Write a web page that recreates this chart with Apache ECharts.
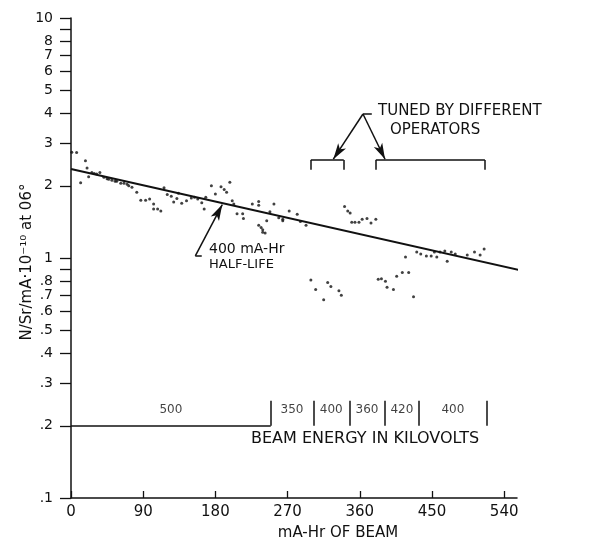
<!DOCTYPE html>
<html><head><meta charset="utf-8">
<script src="https://cdn.jsdelivr.net/npm/echarts@6/dist/echarts.min.js"></script>
<style>html,body{margin:0;padding:0;background:#fff}#c{width:591px;height:542px}</style>
</head><body><div id="c"></div>
<script>
// measured points: mA-Hr of beam vs N/Sr/mA·10^-10
const mAHr = [1,7,12,18,20,22,26,29,32,36,
 41,45,47,51,55,57,62,66,70,72,
 76,82,87,93,98,103,103,108,112,116,
 120,125,128,132,134,138,144,150,154,158,
 163,166,168,175,180,187,191,194,198,201,
 203,207,214,215,226,234,234,234,237,244,
 239,242,239,248,253,259,264,264,272,282,
 286,293,299,305,315,320,324,334,337,341,
 345,348,350,354,359,363,369,374,380,383,
 387,392,394,402,406,413,417,421,427,431,
 436,443,449,453,456,460,466,469,474,479,
 494,503,510,515];
const yieldVals = [2.76,2.75,2.06,2.54,2.37,2.18,2.27,2.25,2.24,2.27,
 2.17,2.14,2.13,2.11,2.09,2.09,2.05,2.05,2.03,2.00,
 1.97,1.88,1.74,1.74,1.76,1.68,1.60,1.60,1.57,1.96,
 1.84,1.81,1.71,1.77,1.86,1.69,1.73,1.78,1.79,1.76,
 1.70,1.60,1.79,2.00,1.85,1.98,1.93,1.88,2.07,1.73,
 1.68,1.53,1.53,1.46,1.68,1.72,1.66,1.37,1.34,1.43,
 1.31,1.27,1.28,1.56,1.68,1.47,1.45,1.43,1.57,1.52,
 1.42,1.37,0.81,0.74,0.67,0.79,0.76,0.73,0.70,1.64,
 1.57,1.54,1.41,1.41,1.41,1.45,1.46,1.40,1.45,0.815,
 0.82,0.80,0.755,0.74,0.84,0.87,1.01,0.87,0.69,1.06,
 1.04,1.02,1.02,1.06,1.01,1.06,1.07,0.97,1.06,1.04,
 1.03,1.06,1.03,1.09];
// 400 mA-Hr half-life fit line
const fitX = [0, 566];
const fitY = [2.35, 0.88];
// axis ticks / labels
const xTicks = [0, 90, 180, 270, 360, 450, 540];
const yTicks = [0.1,0.2,0.3,0.4,0.5,0.6,0.7,0.8,0.9,1,2,3,4,5,6,7,8,9,10];
const yLabelVals = [0.1,0.2,0.3,0.4,0.5,0.6,0.7,0.8,1,2,3,4,5,6,7,8,10];
const yLabelText = ['.1','.2','.3','.4','.5','.6','.7','.8','1','2','3','4','5','6','7','8','10'];
// beam energy segments (mA-Hr boundaries) and kV
const energyStart = [0, 249, 302, 347, 391, 434];
const energyEnd = [249, 302, 347, 391, 434, 518];
const energyKV = ['500','350','400','360','420','400'];
const energyLevel = 0.2;
// tuned-by-different-operators spans
const tunedSpans = [[299, 340], [380, 516]];

const chart = echarts.init(document.getElementById('c'), null, {renderer:'canvas'});
const FONT = 'DejaVu Sans';
const black = '#111';

const segs = [];
// energy baseline
segs.push([{coord:[energyStart[0], energyLevel]}, {coord:[energyEnd[0], energyLevel]}]);
energyEnd.forEach(x => segs.push([{coord:[x, energyLevel]}, {coord:[x, 0.254]}]));
// brackets
tunedSpans.forEach(s => {
  segs.push([{coord:[s[0], 2.33]}, {coord:[s[0], 2.56]}]);
  segs.push([{coord:[s[0], 2.56]}, {coord:[s[1], 2.56]}]);
  segs.push([{coord:[s[1], 2.56]}, {coord:[s[1], 2.33]}]);
});
// leader dashes
segs.push([{coord:[364, 3.98]}, {coord:[375, 3.98]}]);
segs.push([{coord:[155, 1.02]}, {coord:[163, 1.02]}]);

const arrows = [
  [{coord:[364, 3.98]}, {coord:[327, 2.58]}],
  [{coord:[364, 3.98]}, {coord:[391.5, 2.58]}],
  [{coord:[155, 1.02]}, {coord:[188.6, 1.67]}]
];

const labelMap = {};
yLabelVals.forEach((v,i)=>{ labelMap[v.toFixed(3)] = yLabelText[i]; });

const option = {
  animation: false,
  backgroundColor: '#fff',
  grid: {left: 71, right: 74, top: 18, bottom: 44},
  xAxis: {
    type: 'value', min: 0, max: 556,
    axisLine: {lineStyle: {color: black, width: 1.5}},
    axisTick: {inside: true, length: 7, customValues: xTicks, lineStyle: {color: black, width: 1.3}},
    axisLabel: {customValues: xTicks, color: black, fontSize: 15, fontFamily: FONT, margin: 7},
    splitLine: {show: false}
  },
  yAxis: {
    type: 'log', logBase: 10, min: 0.1, max: 10,
    axisLine: {lineStyle: {color: black, width: 1.5}},
    axisTick: {length: 11, customValues: yTicks, lineStyle: {color: black, width: 1.3}},
    axisLabel: {customValues: yLabelVals, color: black, fontSize: 14, fontFamily: FONT, margin: 18,
      formatter: v => labelMap[Number(v).toFixed(3)] || ''},
    splitLine: {show: false}, minorTick: {show: false}
  },
  series: [
    {
      type: 'scatter', silent: true,
      data: mAHr.map((x,i)=>[x, yieldVals[i]]),
      symbol: 'circle', symbolSize: 3,
      itemStyle: {color: black}
    },
    {
      type: 'line', silent: true, clip: false,
      data: fitX.map((x,i)=>[x, fitY[i]]),
      symbol: 'none',
      lineStyle: {color: black, width: 2},
      markLine: {
        silent: true, symbol: ['none','none'], animation: false,
        label: {show: false},
        lineStyle: {color: black, width: 1.5, type: 'solid'},
        emphasis: {disabled: true},
        data: segs
      }
    },
    {
      type: 'line', silent: true, clip: false, data: [],
      markLine: {
        silent: true, symbol: ['none','arrow'], symbolSize: [7, 16], animation: false,
        label: {show: false},
        lineStyle: {color: black, width: 1.5, type: 'solid'},
        emphasis: {disabled: true},
        data: arrows
      }
    },
    {
      type: 'scatter', silent: true, symbolSize: 0,
      data: energyKV.map((k,i)=>({value:[(energyStart[i]+energyEnd[i])/2, 0.232], name:k})),
      label: {show: true, position: 'inside', formatter: p => p.name, color: black, fontSize: 12, fontFamily: FONT}
    }
  ],
  graphic: [
    {type:'text', left: 378, top: 104, style:{text:'TUNED BY DIFFERENT', fill: black, font: '15px "DejaVu Sans"'}},
    {type:'text', left: 390, top: 123, style:{text:'OPERATORS', fill: black, font: '15px "DejaVu Sans"'}},
    {type:'text', left: 209, top: 242, style:{text:'400 mA-Hr', fill: black, font: '14px "DejaVu Sans"'}},
    {type:'text', left: 209, top: 258, style:{text:'HALF-LIFE', fill: black, font: '13px "DejaVu Sans"'}},
    {type:'text', left: 251, top: 431, style:{text:'BEAM ENERGY IN KILOVOLTS', fill: black, font: '16px "DejaVu Sans"'}},
    {type:'text', x: 338, y: 533, style:{text:'mA-Hr OF BEAM', fill: black, font: '15px "DejaVu Sans"', textAlign:'center', textVerticalAlign:'middle'}},
    {type:'text', x: 27, y: 262, rotation: Math.PI/2, style:{text:'N/Sr/mA·10⁻¹⁰ at 06°', fill: black, font: '15px "DejaVu Sans"', textAlign:'center', textVerticalAlign:'middle'}}
  ]
};
chart.setOption(option);
</script>
</body></html>
